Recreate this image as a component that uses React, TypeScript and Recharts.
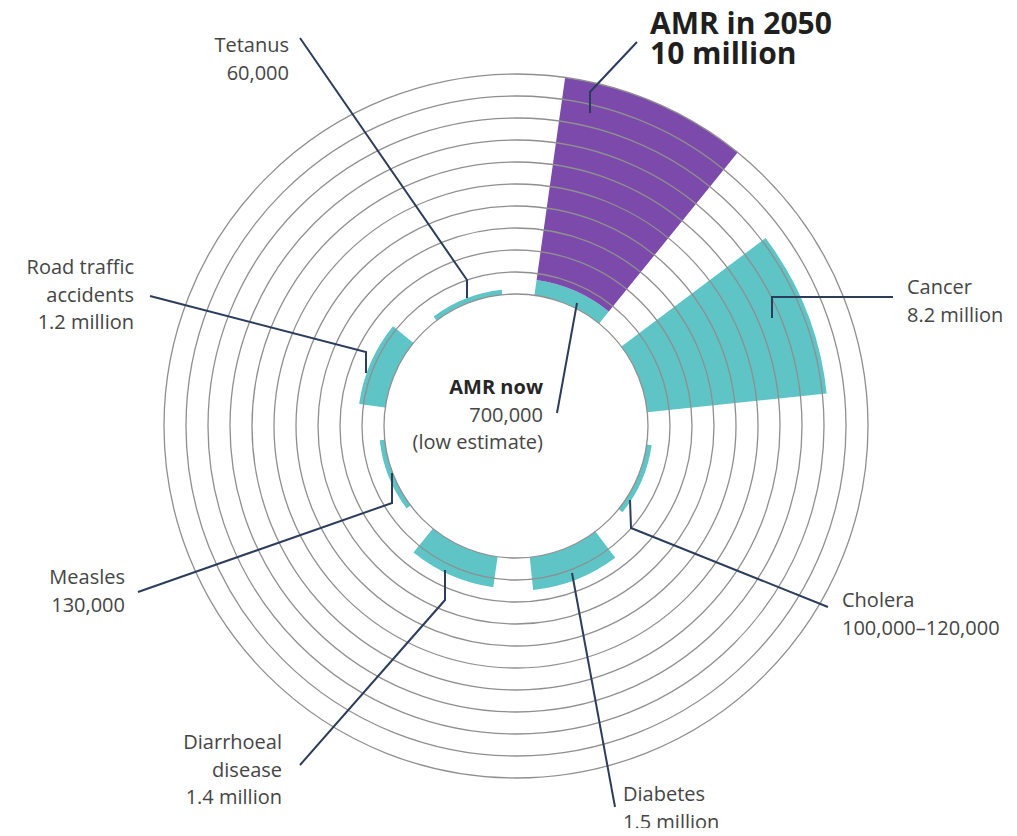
import React from 'react';
import { RadialBarChart, RadialBar, PolarGrid, PolarAngleAxis, PolarRadiusAxis } from 'recharts';

// ---- data (deaths per year, millions) ----
const categories = ['AMR', 'Cancer', 'Cholera', 'Diabetes', 'Diarrhoeal disease', 'Measles', 'Road traffic accidents', 'Tetanus'];
const deathsNow = [0.7, 8.2, 0.11, 1.5, 1.4, 0.13, 1.2, 0.06];
const amr2050Extra = [9.3, 0, 0, 0, 0, 0, 0, 0]; // stacked on top of AMR now -> 10 million
const ringTicks = [0, 1, 2, 3, 4, 5, 6, 7, 8, 9, 10];

const data = categories.map((name, i) => ({ name, now: deathsNow[i], future: amr2050Extra[i] }));

// ---- layout ----
const W = 1000;
const H = 820;
const CX = 508;
const CY = 418;
const INNER = 132;
const OUTER = 352;
const START = 44;
const END = -316;

const TEAL = '#5ec4c6';
const PURPLE = '#7b4aab';
const LEADER = '#2c3d5b';
const FONT = "'Open Sans', 'Noto Sans', sans-serif";

// leader lines, as offsets from the chart centre
const leaders: number[][][] = [
  [[74, -313], [74, -334], [121, -384]],
  [[61, -123], [41, -13]],
  [[-216, -388], [-49, -146], [-49, -128]],
  [[-366, -130], [-150, -74], [-150, -53]],
  [[256, -108], [256, -129], [377, -129]],
  [[114, 74], [115, 102], [312, 181]],
  [[56, 147], [99, 381]],
  [[-71, 144], [-71, 174], [-216, 339]],
  [[-124, 47], [-124, 77], [-378, 166]],
];

type Lbl = { x: number; y: number; anchor: 'start' | 'end'; lines: string[]; bold?: boolean; size?: number; color?: string; lh?: number; firstBold?: boolean };
const labels: Lbl[] = [
  { x: 642, y: 26, anchor: 'start', lines: ['AMR in 2050', '10 million'], bold: true, size: 30, color: '#1f1f1f', lh: 30 },
  { x: 535, y: 386, anchor: 'end', lines: ['AMR now', '700,000', '(low estimate)'], firstBold: true },
  { x: 281, y: 44, anchor: 'end', lines: ['Tetanus', '60,000'] },
  { x: 126, y: 266, anchor: 'end', lines: ['Road traffic', 'accidents', '1.2 million'] },
  { x: 899, y: 286, anchor: 'start', lines: ['Cancer', '8.2 million'] },
  { x: 834, y: 599, anchor: 'start', lines: ['Cholera', '100,000\u2013120,000'] },
  { x: 615, y: 793, anchor: 'start', lines: ['Diabetes', '1.5 million'] },
  { x: 274, y: 741, anchor: 'end', lines: ['Diarrhoeal', 'disease', '1.4 million'] },
  { x: 117, y: 576, anchor: 'end', lines: ['Measles', '130,000'] },
];

const chartProps = {
  width: W,
  height: H,
  cx: CX,
  cy: CY,
  innerRadius: INNER,
  outerRadius: OUTER,
  startAngle: START,
  endAngle: END,
  layout: 'centric' as const,
  barCategoryGap: '15.5%',
  data,
  margin: { top: 0, right: 0, bottom: 0, left: 0 },
};

export default function App() {
  return (
    <div style={{ position: 'relative', width: W, height: H, fontFamily: FONT }}>
      <RadialBarChart {...chartProps}>
        <PolarAngleAxis type="category" dataKey="name" tick={false} axisLine={false} tickLine={false} />
        <PolarRadiusAxis type="number" domain={[0, 10]} ticks={ringTicks} tick={false} axisLine={false} tickLine={false} />
        <RadialBar dataKey="now" stackId="a" fill={TEAL} minPointSize={5} isAnimationActive={false} />
        <RadialBar dataKey="future" stackId="a" fill={PURPLE} isAnimationActive={false} />
      </RadialBarChart>
      {/* concentric rings drawn over the bars (same chart, invisible bars) */}
      <div style={{ position: 'absolute', left: 0, top: 0, pointerEvents: 'none' }}>
        <RadialBarChart {...chartProps}>
          <PolarAngleAxis type="category" dataKey="name" tick={false} axisLine={false} tickLine={false} />
          <PolarRadiusAxis type="number" domain={[0, 10]} ticks={ringTicks} tick={false} axisLine={false} tickLine={false} />
          <PolarGrid gridType="circle" radialLines={false} stroke="#8f8f8f" strokeWidth={1.3} />
          <RadialBar dataKey="now" stackId="a" fill="none" fillOpacity={0} isAnimationActive={false} />
          <RadialBar dataKey="future" stackId="a" fill="none" fillOpacity={0} isAnimationActive={false} />
        </RadialBarChart>
      </div>
      <svg width={W} height={H} style={{ position: 'absolute', left: 0, top: 0, pointerEvents: 'none' }}>
        {leaders.map((pts, i) => (
          <polyline
            key={i}
            points={pts.map(([dx, dy]) => `${CX + dx},${CY + dy}`).join(' ')}
            fill="none"
            stroke={LEADER}
            strokeWidth={2}
          />
        ))}
        {labels.map((l, i) => (
          <text key={i} x={l.x} y={l.y} textAnchor={l.anchor} fontFamily={FONT} fontSize={l.size ?? 20} fill={l.color ?? '#454545'} fontWeight={l.bold ? 700 : 400}>
            {l.lines.map((t, j) => (
              <tspan key={j} x={l.x} y={l.y + j * (l.lh ?? 27.5)} fontWeight={l.bold || (l.firstBold && j === 0) ? 700 : 400} fill={l.firstBold && j === 0 ? '#262626' : undefined}>
                {t}
              </tspan>
            ))}
          </text>
        ))}
      </svg>
    </div>
  );
}
